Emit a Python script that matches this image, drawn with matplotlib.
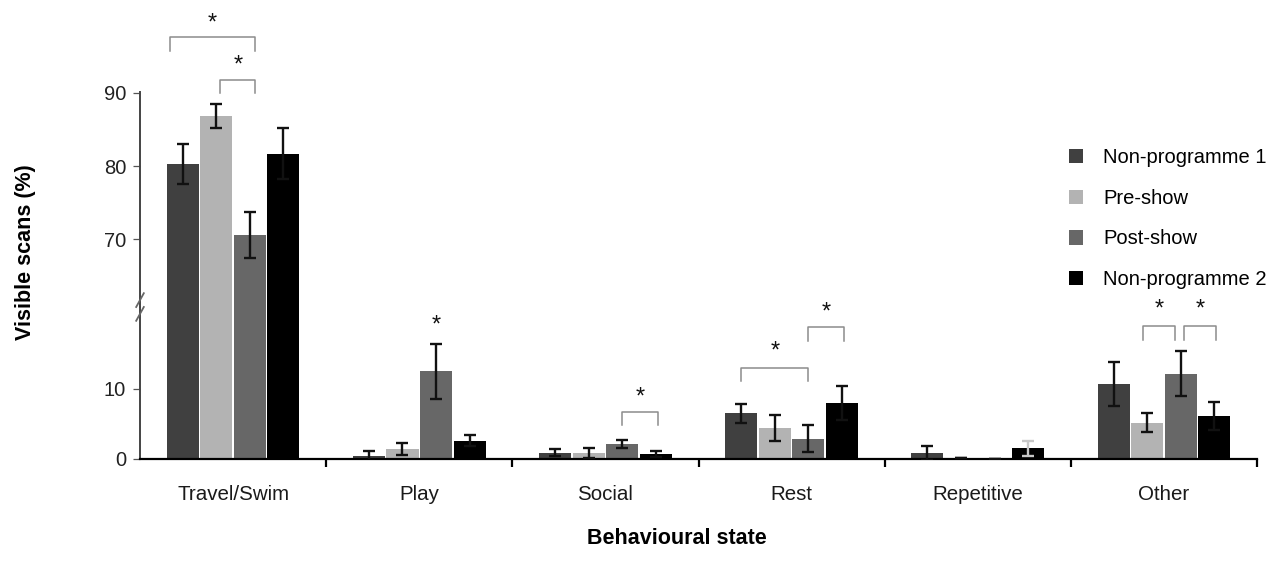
import numpy as np
import matplotlib
matplotlib.use("Agg")
import matplotlib.pyplot as plt
from matplotlib.patches import Patch

plt.rcParams["font.family"] = ["Liberation Sans", "DejaVu Sans"]

# data
states = ["Travel/Swim", "Play", "Social", "Rest", "Repetitive", "Other"]
series = ["Non-programme 1", "Pre-show", "Post-show", "Non-programme 2"]
colors = ["#404040", "#b3b3b3", "#676767", "#000000"]

non_prog1 = [80.3, 0.4, 0.9, 6.5, 0.9, 10.7]
pre_show = [86.8, 1.4, 0.9, 4.4, 0.2, 5.2]
post_show = [70.6, 12.5, 2.1, 2.9, 0.05, 12.2]
non_prog2 = [81.7, 2.6, 0.7, 8.0, 1.5, 6.1]

err_np1 = [2.7, 0.7, 0.5, 1.4, 1.0, 3.1]
err_pre = [1.6, 0.9, 0.7, 1.9, 0.0, 1.3]
err_post = [3.1, 3.9, 0.6, 1.9, 0.0, 3.2]
err_np2 = [3.5, 0.8, 0.4, 2.4, 1.1, 2.0]

values = [non_prog1, pre_show, post_show, non_prog2]
errors = [err_np1, err_pre, err_post, err_np2]

# significance brackets: (x1, x2, top, legs bottom, star y); first two on the upper panel
brackets_upper = [(-0.34, 0.12, 97.6, 95.7, 99.4), (-0.07, 0.12, 91.8, 90.0, 93.7)]
brackets_lower = [(2.09, 2.28, 6.7, 4.9, 8.8),
                  (2.73, 3.09, 13.0, 11.2, 15.4),
                  (3.09, 3.28, 18.8, 16.8, 20.9),
                  (4.89, 5.06, 19.0, 17.0, 21.3),
                  (5.11, 5.28, 19.0, 17.0, 21.3)]
lone_stars = [(1.09, 19.0)]

fig = plt.figure(figsize=(12.71, 5.74), dpi=100)
W, H = 1271, 574
left, right = 140 / W, 1257 / W
ax_lo = fig.add_axes([left, 1 - 459 / H, right - left, (459 - 307) / H])
ax_hi = fig.add_axes([left, 1 - 307 / H, right - left, (307 - 92) / H], sharex=ax_lo)

x = np.arange(len(states))
step = 0.18
width = 0.172
for ax in (ax_lo, ax_hi):
    for i, (vals, errs) in enumerate(zip(values, errors)):
        xs = x + (i - 1.5) * step
        ax.bar(xs, vals, width=width, color=colors[i], edgecolor="none", zorder=2)
        for j in range(len(states)):
            ec = "#c8c8c8" if (j == 4 and i == 3) else "#111111"
            ax.errorbar(xs[j], vals[j], yerr=errs[j], fmt="none", ecolor=ec,
                        elinewidth=1.7, capsize=4.3, capthick=1.7, zorder=3)

ax_lo.set_ylim(0, 21.7)
ax_hi.set_ylim(60.8, 90.1)
ax_lo.set_xlim(-0.5, 5.5)

ax_lo.set_yticks([0, 10])
ax_hi.set_yticks([70, 80, 90])
for ax in (ax_lo, ax_hi):
    ax.spines["right"].set_visible(False)
    ax.spines["left"].set_color("#444444")
    ax.spines["left"].set_linewidth(1.4)
    ax.tick_params(axis="y", direction="out", length=5, width=0.9, color="#555555",
                   labelsize=14.5, labelcolor="#222222", pad=5)
    ax.set_facecolor("none")
ax_hi.spines["top"].set_visible(False)
ax_hi.spines["bottom"].set_visible(False)
ax_lo.spines["top"].set_visible(False)
ax_hi.tick_params(axis="x", which="both", bottom=False, top=False, labelbottom=False)

ax_lo.spines["bottom"].set_color("black")
ax_lo.spines["bottom"].set_linewidth(1.6)
ax_lo.set_xticks(x)
ax_lo.set_xticklabels(states)
ax_lo.set_xticks(np.arange(0.5, 6, 1), minor=True)
ax_lo.tick_params(axis="x", which="major", length=0, pad=19, labelsize=14.8, labelcolor="#1a1a1a")
ax_lo.tick_params(axis="x", which="minor", direction="out", length=6, width=1.6, color="black")

# axis break marks
for dy in (-0.012, 0.012):
    fig.add_artist(plt.Line2D([left - 0.003, left + 0.003],
                              [1 - 307 / H + dy - 0.012, 1 - 307 / H + dy + 0.012],
                              color="#666666", lw=1.3, transform=fig.transFigure))

def draw_bracket(ax, x1, x2, top, bottom, star_y):
    ax.plot([x1, x1, x2, x2], [bottom, top, top, bottom], color="#8c8c8c",
            lw=1.1, clip_on=False, zorder=4)
    ax.text((x1 + x2) / 2, star_y, "*", ha="center", va="center", fontsize=17,
            color="#111111", clip_on=False)

for b in brackets_upper:
    draw_bracket(ax_hi, *b)
for b in brackets_lower:
    draw_bracket(ax_lo, *b)
for sx, sy in lone_stars:
    ax_lo.text(sx, sy, "*", ha="center", va="center", fontsize=17, color="#111111")

handles = [Patch(facecolor=c, edgecolor="none", label=s) for c, s in zip(colors, series)]
fig.legend(handles=handles, loc="upper left", bbox_to_anchor=(1069 / W, 1 - 148 / H),
           frameon=False, fontsize=14.5, handlelength=0.7, handleheight=0.7,
           handletextpad=1.0, labelspacing=1.08, borderpad=0, borderaxespad=0)

fig.text(26 / W, 1 - 252 / H, "Visible scans (%)", rotation=90, ha="center", va="center",
         fontsize=15.5, fontweight="bold")
fig.text(677 / W, 1 - 538 / H, "Behavioural state", ha="center", va="center",
         fontsize=15.5, fontweight="bold")

fig.savefig("out.png", dpi=100, facecolor="white")
